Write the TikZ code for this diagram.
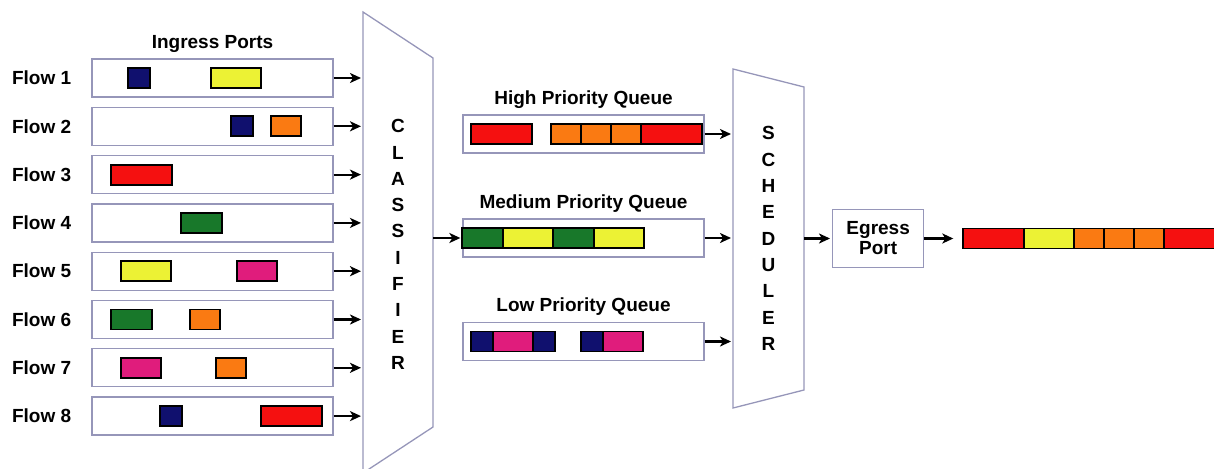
\documentclass[tikz,border=0pt]{standalone}
\usepackage{fontspec}
\setmainfont{Liberation Sans}
\usetikzlibrary{arrows, arrows.meta, calc, positioning}

\definecolor{portline}{RGB}{150,150,185}
\definecolor{pnavy}{RGB}{16,16,110}
\definecolor{porange}{RGB}{250,122,18}
\definecolor{pgreen}{RGB}{24,120,42}
\definecolor{pmagenta}{RGB}{224,28,124}
\definecolor{pyellow}{RGB}{236,242,52}
\definecolor{pred}{RGB}{245,16,16}

\begin{document}
\begin{tikzpicture}[x=1pt, y=-1pt, ->, >={Stealth[length=11pt, width=10pt, inset=3pt]},
  shorten >=2pt, every edge/.append style={line width=2.2pt},
  port/.style={draw=portline, line width=1.3pt, minimum width=241pt, minimum height=38pt, inner sep=0pt},
  lbl/.style={inner sep=0pt, font=\bfseries\fontsize{19}{20}\selectfont},
  stack/.style={outer sep=0pt, inner sep=0pt, align=center, font=\bfseries\fontsize{19}{26.3}\selectfont},
  pkt/.style={draw=black, line width=1.8pt, minimum height=20pt, inner sep=0pt, outer sep=0pt, anchor=west},
  pNav/.style={pkt, fill=pnavy, minimum width=22pt},
  pOrg/.style={pkt, fill=porange, minimum width=30pt},
  pGrn/.style={pkt, fill=pgreen, minimum width=41pt},
  pMag/.style={pkt, fill=pmagenta, minimum width=40pt},
  pYel/.style={pkt, fill=pyellow, minimum width=50pt},
  pRed/.style={pkt, fill=pred, minimum width=61pt}]
  \useasboundingbox (0,0) rectangle (1214,468);

  %% ingress ports
  \node[port] (F1) at (212.5,78) {};
  \node[port, below=9pt of F1] (F2) {};
  \node[port, below=9pt of F2] (F3) {};
  \node[port, below=9pt of F3] (F4) {};
  \node[port, below=9pt of F4] (F5) {};
  \node[port, below=9pt of F5] (F6) {};
  \node[port, below=9pt of F6] (F7) {};
  \node[port, below=9pt of F7] (F8) {};
  \node[lbl, above=6pt of F1] (T1) {Ingress Ports};
  \foreach \i in {1,...,8}
    \node[lbl, left=20pt of F\i] (L\i) {Flow \i};

  \node[pNav, right=37pt of F1.west] (A1) {};
  \node[pYel, right=120pt of F1.west] (A2) {};
  \node[pNav, right=140pt of F2.west] (B1) {};
  \node[pOrg, right=180pt of F2.west] (B2) {};
  \node[pRed, right=20pt of F3.west] (C1) {};
  \node[pGrn, right=90pt of F4.west] (D1) {};
  \node[pYel, right=30pt of F5.west] (E1) {};
  \node[pMag, right=146pt of F5.west] (E2) {};
  \node[pGrn, right=20pt of F6.west] (G1) {};
  \node[pOrg, right=99pt of F6.west] (G2) {};
  \node[pMag, right=30pt of F7.west] (H1) {};
  \node[pOrg, right=125pt of F7.west] (H2) {};
  \node[pNav, right=69pt of F8.west] (K1) {};
  \node[pRed, right=170pt of F8.west] (K2) {};

  %% classifier
  \node[stack, minimum width=70pt, minimum height=465pt] (CL) at (398,244.5)
    {C\\L\\A\\S\\S\\I\\F\\I\\E\\R};
  \draw[-, draw=portline, line width=1.3pt] (CL.north west) -- ($(CL.north east)+(0,46)$)
    -- ($(CL.south east)+(0,-50)$) -- ($(CL.south west)+(0,-4)$) -- cycle;
  \foreach \i in {1,...,8}
    \path (F\i) edge (F\i.east -| CL.west);

  %% priority queues
  \node[port] (HQ) at (583.5,134) {};
  \node[port] (MQ) at (583.5,238) {};
  \node[port] (LQ) at (583.5,341.5) {};
  \node[lbl, above=6pt of HQ] (T2) {High Priority Queue};
  \node[lbl, above=6pt of MQ] (T3) {Medium Priority Queue};
  \node[lbl, above=6pt of LQ] (T4) {Low Priority Queue};

  \node[pRed, right=9pt of HQ.west] (H1q) {};
  \node[pOrg, right=19pt of H1q] (H2q) {};
  \node[pOrg, right=0pt of H2q] (H3q) {};
  \node[pOrg, right=0pt of H3q] (H4q) {};
  \node[pRed, right=0pt of H4q] (H5q) {};

  \node[pGrn, right=0pt of MQ.west] (M1q) {};
  \node[pYel, right=0pt of M1q] (M2q) {};
  \node[pGrn, right=0pt of M2q] (M3q) {};
  \node[pYel, right=0pt of M3q] (M4q) {};

  \node[pNav, right=9pt of LQ.west] (L1q) {};
  \node[pMag, right=0pt of L1q] (L2q) {};
  \node[pNav, right=0pt of L2q] (L3q) {};
  \node[pNav, right=26pt of L3q] (L4q) {};
  \node[pMag, right=0pt of L4q] (L5q) {};

  \path (CL.east |- MQ) edge (MQ);

  %% scheduler
  \node[stack, minimum width=71pt, minimum height=339pt] (SC) at (768.5,238.5)
    {S\\C\\H\\E\\D\\U\\L\\E\\R};
  \draw[-, draw=portline, line width=1.3pt] (SC.north west) -- ($(SC.north east)+(0,18)$)
    -- ($(SC.south east)+(0,-18)$) -- (SC.south west) -- cycle;
  \path
    (HQ) edge (HQ -| SC.west)
    (MQ) edge (MQ -| SC.west)
    (LQ) edge (LQ -| SC.west);

  %% egress
  \node[draw=portline, line width=1.3pt, minimum width=91pt, minimum height=58pt, inner sep=0pt,
    align=center, font=\bfseries\fontsize{19}{20}\selectfont, right=28pt of SC] (EP) {Egress\\Port};
  \node[pRed, right=39pt of EP] (O1) {};
  \node[pYel, right=0pt of O1] (O2) {};
  \node[pOrg, right=0pt of O2] (O3) {};
  \node[pOrg, right=0pt of O3] (O4) {};
  \node[pOrg, right=0pt of O4] (O5) {};
  \node[pRed, right=0pt of O5] (O6) {};

  \path
    (SC.east |- EP) edge (EP)
    (EP) edge[shorten >=10pt] (O1);
\end{tikzpicture}
\end{document}
